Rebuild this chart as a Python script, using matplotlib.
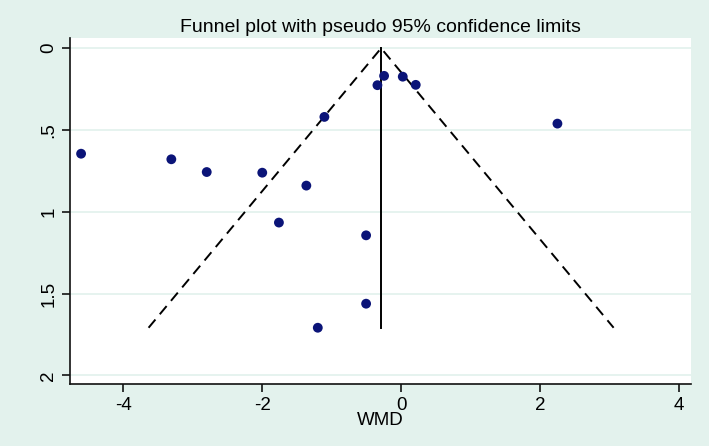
import numpy as np
import matplotlib
matplotlib.use("Agg")
import matplotlib.pyplot as plt

# Studies: effect estimate (WMD) and its standard error
wmd = [-4.61, -3.31, -2.80, -2.00, -1.365, -1.105, -1.76,
       -0.341, -0.245, 0.024, 0.211, 2.252, -1.20, -0.504, -0.504]
se = [0.645, 0.679, 0.757, 0.761, 0.840, 0.420, 1.066,
      0.226, 0.169, 0.174, 0.224, 0.461, 1.709, 1.144, 1.562]

pooled = -0.288
se_max = 1.709

x_ticks = [-4, -2, 0, 2, 4]
y_ticks = [0, 0.5, 1, 1.5, 2]
y_labels = ["0", ".5", "1", "1.5", "2"]

plt.rcParams['font.family'] = ['Liberation Sans', 'DejaVu Sans']

bg = '#e3f2ed'
fig = plt.figure(figsize=(7.09, 4.46), dpi=100, facecolor=bg)
ax = fig.add_axes([0.0987, 0.139, 0.8753, 0.776])
ax.set_facecolor('white')

# grid lines
for yt in y_ticks:
    ax.axhline(yt, color='#e2f1ec', lw=1.2, zorder=0)

# pseudo 95% confidence limits
ax.plot([pooled - 1.96 * se_max, pooled, pooled + 1.96 * se_max],
        [se_max, 0, se_max], color='black', ls=(0, (5.5, 3.5)), lw=1.4, zorder=2)
ax.plot([pooled, pooled], [0, se_max], color='black', lw=1.4, zorder=2)

ax.scatter(wmd, se, s=50, color='#0b1478', edgecolors='none', zorder=3)

ax.set_xlim(-4.77, 4.17)
ax.set_ylim(2.053, -0.063)
ax.set_xticks(x_ticks)
ax.set_xticklabels([str(t) for t in x_ticks])
ax.set_yticks(y_ticks)
ax.set_yticklabels(y_labels, rotation=90, va='center')

for s in ['top', 'right']:
    ax.spines[s].set_visible(False)
for s in ['left', 'bottom']:
    ax.spines[s].set_linewidth(1.2)
    ax.spines[s].set_color('#111111')

ax.tick_params(axis='both', length=6, width=1.1, labelsize=13.5, pad=3)
ax.set_xlabel('WMD', fontsize=13.5, labelpad=-1)
ax.set_title('Funnel plot with pseudo 95% confidence limits', fontsize=14, pad=4)

fig.savefig('out.png', dpi=100, facecolor=bg)
